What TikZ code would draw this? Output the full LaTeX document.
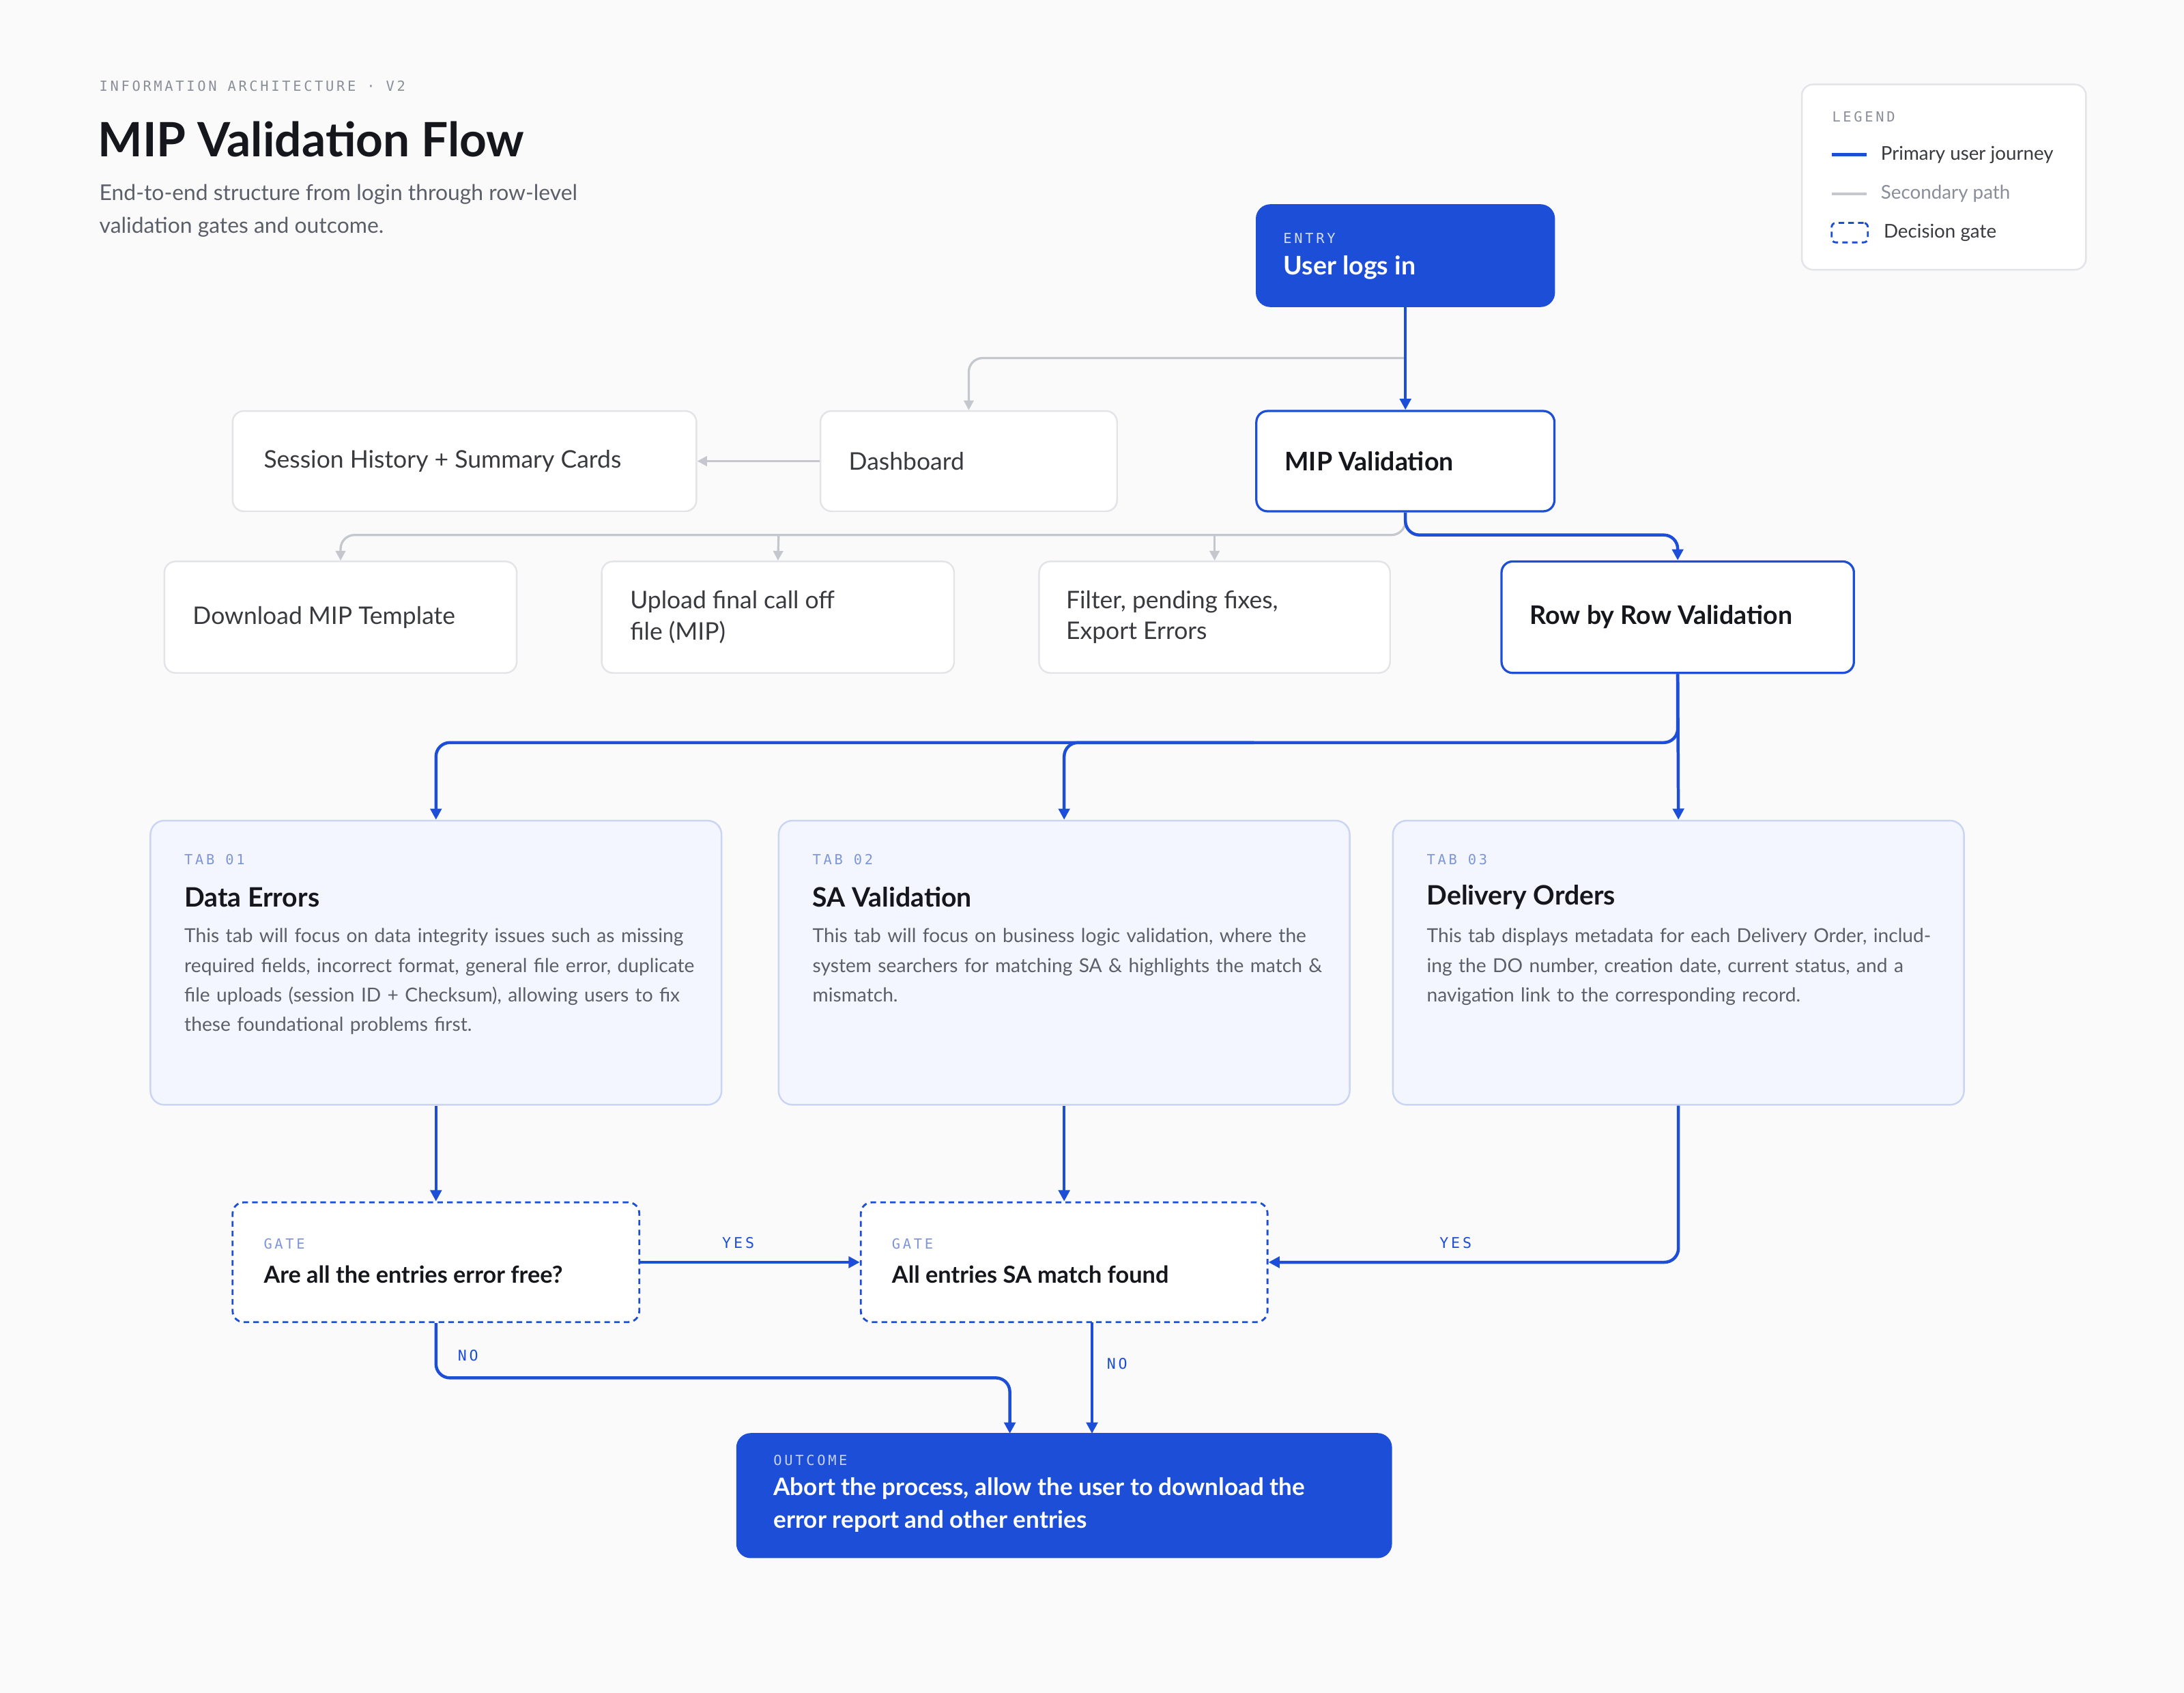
\documentclass[tikz,border=0pt]{standalone}
\usepackage{fontspec}
\setmainfont{Lato}
\newfontfamily\monof{DejaVu Sans Mono}[LetterSpace=18]
\usetikzlibrary{arrows.meta}
\definecolor{bg}{HTML}{FAFAFA}
\definecolor{pri}{HTML}{1D4ED8}
\definecolor{gry}{HTML}{C4C7CE}
\definecolor{bord}{HTML}{E3E4E8}
\definecolor{tabf}{HTML}{F3F6FE}
\definecolor{tabb}{HTML}{C9D5F2}
\definecolor{ink}{HTML}{15171C}
\definecolor{sub}{HTML}{5B5F69}
\definecolor{lbl}{HTML}{8A8E98}
\definecolor{blbl}{HTML}{7E95D6}
\begin{document}
\begin{tikzpicture}[x=0.5pt,y=-0.5pt,
  box/.style={draw=bord,fill=white,rounded corners=4pt,line width=0.6pt,inner sep=0pt},
  pbox/.style={draw=pri,fill=white,rounded corners=4pt,line width=0.8pt,inner sep=0pt},
  fbox/.style={draw=pri,fill=pri,rounded corners=5pt,inner sep=0pt},
  tab/.style={draw=tabb,fill=tabf,rounded corners=5pt,line width=0.6pt,inner sep=0pt},
  gate/.style={draw=pri,fill=white,dashed,dash pattern=on 2pt off 1.5pt,rounded corners=4pt,line width=0.7pt,inner sep=0pt},
  txt/.style={anchor=west,inner sep=0pt,align=left,font=\fontsize{8.7}{11.2}\selectfont,text=ink!85},
  btxt/.style={anchor=west,inner sep=0pt,align=left,font=\fontsize{9.2}{11.5}\selectfont\bfseries,text=ink},
  small/.style={anchor=west,inner sep=0pt,font=\monof\fontsize{5}{6}\selectfont},
  desc/.style={anchor=north west,inner sep=0pt,align=left,text width=185pt,font=\fontsize{6.9}{10.6}\selectfont,text=sub},
  parr/.style={draw=pri,line width=1.1pt,rounded corners=5pt,-{Triangle[width=4pt,length=4pt]}},
  garr/.style={draw=gry,line width=0.8pt,rounded corners=5pt,-{Triangle[width=3.5pt,length=3.5pt]}},
  ylab/.style={inner sep=0pt,font=\monof\fontsize{5.3}{6}\selectfont,text=pri}]
\fill[bg] (0,0) rectangle (1568,1215);
\useasboundingbox (0,0) rectangle (1568,1215);
% header
\node[small,text=lbl] (hdr) at (71,62) {INFORMATION ARCHITECTURE · V2};
\node[anchor=west,inner sep=0pt,font=\fontsize{17}{20}\selectfont\bfseries,text=ink] (title) at (70,100) {MIP Validation Flow};
\node[anchor=north west,inner sep=0pt,align=left,font=\fontsize{7.8}{11.6}\selectfont,text=sub] (subt) at (71,132) {End-to-end structure from login through row-level\\validation gates and outcome.};
% legend
\node[box,minimum width=204pt*0.5*2/1, minimum height=0pt, anchor=north west, minimum width=102pt, minimum height=66.5pt] (leg) at (1293,60) {};
\node[small,text=lbl] (legt) at (1315,84) {LEGEND};
\coordinate (l1a) at (1315,111); \coordinate (l1b) at (1340,111);
\draw[pri,line width=1.3pt] (l1a) -- (l1b);
\node[anchor=west,inner sep=0pt,font=\fontsize{6.8}{8}\selectfont,text=ink!85] (lg1) at (1350,111) {Primary user journey};
\coordinate (l2a) at (1315,139); \coordinate (l2b) at (1340,139);
\draw[gry,line width=1pt] (l2a) -- (l2b);
\node[anchor=west,inner sep=0pt,font=\fontsize{6.8}{8}\selectfont,text=lbl] (lg2) at (1350,139) {Secondary path};
\node[gate,rounded corners=1.5pt,minimum width=13pt,minimum height=7pt] (lg3b) at (1328,167) {};
\node[anchor=west,inner sep=0pt,font=\fontsize{6.8}{8}\selectfont,text=ink!85] (lg3) at (1352,167) {Decision gate};
% entry
\node[fbox,minimum width=107pt,minimum height=36.5pt] (entry) at (1009,183.5) {};
\node[small,text=white!80!pri] (entryl) at (921,171) {ENTRY};
\node[btxt,text=white] (entryt) at (921,192) {User logs in};
% row 1
\node[box,minimum width=106.5pt,minimum height=36pt] (dash) at (695.5,331) {};
\node[txt] at (609,331) {Dashboard};
\node[box,minimum width=166.5pt,minimum height=36pt] (sess) at (333.5,331) {};
\node[txt] at (189,331) {Session History + Summary Cards};
\node[pbox,minimum width=107pt,minimum height=36pt] (mip) at (1009,331) {};
\node[btxt] at (922,331) {MIP Validation};
% row 2
\node[box,minimum width=126.5pt,minimum height=40pt] (dl) at (244.5,443) {};
\node[txt] at (138,443) {Download MIP Template};
\node[box,minimum width=126.5pt,minimum height=40pt] (up) at (558.5,443) {};
\node[txt] at (452,443) {Upload final call off\\file (MIP)};
\node[box,minimum width=126pt,minimum height=40pt] (flt) at (872,443) {};
\node[txt] at (765,443) {Filter, pending fixes,\\Export Errors};
\node[pbox,minimum width=126.5pt,minimum height=40pt] (row) at (1204.5,443) {};
\node[btxt] at (1098,443) {Row by Row Validation};
% tabs
\node[tab,minimum width=205pt,minimum height=102pt] (t1) at (313,691) {};
\node[small,text=blbl] at (132,617) {TAB 01};
\node[anchor=west,inner sep=0pt,font=\fontsize{9.6}{12}\selectfont\bfseries,text=ink] at (132,644) {Data Errors};
\node[desc] at (132,666) {This tab will focus on data integrity issues such as missing required fields, incorrect format, general file error, duplicate file uploads (session ID + Checksum), allowing users to fix these foundational problems first.};
\node[tab,minimum width=205pt,minimum height=102pt] (t2) at (764,691) {};
\node[small,text=blbl] at (583,617) {TAB 02};
\node[anchor=west,inner sep=0pt,font=\fontsize{9.6}{12}\selectfont\bfseries,text=ink] at (583,644) {SA Validation};
\node[desc] at (583,666) {This tab will focus on business logic validation, where the system searchers for matching SA \& highlights the match \& mismatch.};
\node[tab,minimum width=205pt,minimum height=102pt] (t3) at (1205,691) {};
\node[small,text=blbl] at (1024,617) {TAB 03};
\node[anchor=west,inner sep=0pt,font=\fontsize{9.6}{12}\selectfont\bfseries,text=ink] at (1024,644) {Delivery Orders};
\node[desc] at (1024,666) {This tab displays metadata for each Delivery Order, including the DO number, creation date, current status, and a navigation link to the corresponding record.};
% gates
\node[gate,minimum width=146pt,minimum height=43pt] (g1) at (313,906) {};
\node[small,text=blbl] at (189,893) {GATE};
\node[btxt,font=\fontsize{8.4}{10}\selectfont\bfseries] at (189,915) {Are all the entries error free?};
\node[gate,minimum width=146pt,minimum height=43pt] (g2) at (764,906) {};
\node[small,text=blbl] at (640,893) {GATE};
\node[btxt,font=\fontsize{8.4}{10}\selectfont\bfseries] at (640,915) {All entries SA match found};
% outcome
\node[fbox,minimum width=235pt,minimum height=44.5pt] (out) at (764,1073.5) {};
\node[small,text=white!75!pri] at (555,1048) {OUTCOME};
\node[anchor=north west,inner sep=0pt,align=left,font=\fontsize{8.6}{11.8}\selectfont\bfseries,text=white] at (555,1060) {Abort the process, allow the user to download the\\error report and other entries};
% connectors
\draw[garr] (1009,257) -| (dash.north);
\draw[parr] (entry.south) -- (mip.north);
\draw[garr] (dash.west) -- (sess.east);
\draw[garr] (mip.south) |- (700,384) -| (dl.north);
\draw[garr] (559,384) -- (up.north);
\draw[garr] (872,384) -- (flt.north);
\draw[parr] (mip.south) |- (1100,384) -| (row.north);
\draw[parr] (row.south) |- (700,533) -| (t1.north);
\draw[parr] (900,533) -| (t2.north);
\draw[parr] (row.south) -- (t3.north);
\draw[parr] (t1.south) -- (g1.north);
\draw[parr] (t2.south) -- (g2.north);
\draw[parr] (t3.south) |- (g2.east);
\draw[parr] (g1.east) -- (g2.west);
\node[ylab] at (530,892) {YES};
\node[ylab] at (1045,892) {YES};
\draw[parr] (g1.south) |- (600,989) -| (725,1029);
\node[ylab] at (336,973) {NO};
\draw[parr] (784,949) -- (784,1029);
\node[ylab] at (802,979) {NO};
\end{tikzpicture}
\end{document}
